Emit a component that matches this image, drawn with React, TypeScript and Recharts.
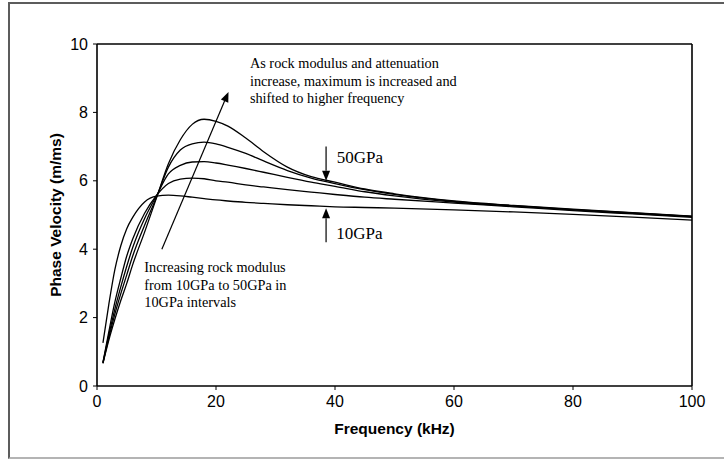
import React from 'react';
import {
  LineChart, Line, XAxis, YAxis, ReferenceLine, ReferenceDot, Label,
} from 'recharts';

// frequency (kHz) samples
const freq = [1, 2, 3, 4, 5, 6, 8, 10, 12, 14, 16, 18, 20, 22, 25, 28, 32, 36, 40, 45, 50, 60, 70, 80, 90, 100];

// phase velocity (m/ms) for each rock modulus
const gpa10 = [1.26, 2.4, 3.4, 4.1, 4.6, 4.93, 5.38, 5.55, 5.58, 5.56, 5.52, 5.48, 5.44, 5.41, 5.37, 5.34, 5.3, 5.27, 5.24, 5.22, 5.2, 5.15, 5.09, 5.02, 4.94, 4.85];
const gpa20 = [0.69, 1.6, 2.45, 3.15, 3.8, 4.3, 5.05, 5.57, 5.92, 6.05, 6.08, 6.06, 6.0, 5.96, 5.88, 5.82, 5.74, 5.67, 5.6, 5.52, 5.46, 5.35, 5.24, 5.13, 5.03, 4.93];
const gpa30 = [0.68, 1.5, 2.25, 2.9, 3.5, 4.05, 4.9, 5.56, 6.2, 6.45, 6.55, 6.56, 6.52, 6.46, 6.36, 6.25, 6.1, 5.96, 5.84, 5.68, 5.56, 5.38, 5.26, 5.15, 5.05, 4.95];
const gpa40 = [0.67, 1.42, 2.1, 2.7, 3.25, 3.8, 4.7, 5.52, 6.4, 6.9, 7.08, 7.13, 7.08, 6.98, 6.8, 6.58, 6.3, 6.08, 5.92, 5.74, 5.6, 5.4, 5.27, 5.16, 5.06, 4.96];
const gpa50 = [0.66, 1.35, 1.95, 2.5, 3.0, 3.55, 4.5, 5.5, 6.5, 7.2, 7.65, 7.8, 7.74, 7.6, 7.25, 6.85, 6.4, 6.12, 5.96, 5.76, 5.62, 5.41, 5.28, 5.17, 5.07, 4.97];

const xTicks = [0, 20, 40, 60, 80, 100];
const yTicks = [0, 2, 4, 6, 8, 10];

const series = ['gpa10', 'gpa20', 'gpa30', 'gpa40', 'gpa50'];

const noteTop = ['As rock modulus and attenuation', 'increase, maximum is increased and', 'shifted to higher frequency'];
const noteBottom = ['Increasing rock modulus', 'from 10GPa to 50GPa in', '10GPa intervals'];

const data = freq.map((f, i) => ({
  f,
  gpa10: gpa10[i],
  gpa20: gpa20[i],
  gpa30: gpa30[i],
  gpa40: gpa40[i],
  gpa50: gpa50[i],
}));

const serif = '"Liberation Serif", "Times New Roman", serif';
const sans = '"Liberation Sans", Arial, sans-serif';

// line with a filled arrow head at its end point
const Arrow = (p: any) => {
  const { x1, y1, x2, y2 } = p;
  const dx = x2 - x1;
  const dy = y2 - y1;
  const len = Math.sqrt(dx * dx + dy * dy) || 1;
  const ux = dx / len;
  const uy = dy / len;
  const hl = 10;
  const hw = 4;
  const bx = x2 - ux * hl;
  const by = y2 - uy * hl;
  const pts = `${x2},${y2} ${bx - uy * hw},${by + ux * hw} ${bx + uy * hw},${by - ux * hw}`;
  return (
    <g>
      <line x1={x1} y1={y1} x2={bx} y2={by} stroke="#000" strokeWidth={1.2} />
      <polygon points={pts} fill="#000" />
    </g>
  );
};

const note = (lines: string[], size = 14.3) => (p: any) => (
  <text x={p.cx} y={p.cy} fontFamily={serif} fontSize={size} fill="#000">
    {lines.map((l, i) => (
      <tspan key={i} x={p.cx} dy={i === 0 ? size * 0.36 : 17.5}>{l}</tspan>
    ))}
  </text>
);

const YTitle = (p: any) => {
  const { viewBox } = p;
  const cx = viewBox.x + 55;
  const cy = viewBox.y + viewBox.height / 2;
  return (
    <text x={cx} y={cy} transform={`rotate(-90, ${cx}, ${cy})`} textAnchor="middle" dominantBaseline="central"
      fontFamily={sans} fontWeight="bold" fontSize={15.5} fill="#000">
      Phase Velocity (m/ms)
    </text>
  );
};

export default function App() {
  return (
    <div style={{ position: 'absolute', left: 0, top: 0, width: 724, height: 461, background: '#fff' }}>
      <div style={{
        position: 'absolute', left: 8, top: 2, width: 730, height: 453,
        borderTop: '2px solid #5c5c5c', borderLeft: '2px solid #5c5c5c', borderBottom: '2px solid #b4b4b4',
      }} />
      <div style={{ position: 'absolute', left: 0, top: 0 }}>
        <LineChart width={724} height={461} data={data} margin={{ top: 44, right: 32, bottom: 20, left: 0 }}>
          <XAxis
            dataKey="f" type="number" domain={[0, 100]} ticks={xTicks}
            height={55} tickSize={4} tickMargin={6}
            axisLine={{ stroke: '#000', strokeWidth: 1.6 }} tickLine={{ stroke: '#000' }}
            tick={{ fill: '#000', fontFamily: sans, fontSize: 16 }}
          >
            <Label value="Frequency (kHz)" position="insideBottom" offset={7}
              style={{ fontFamily: sans, fontWeight: 'bold', fontSize: 15.5, fill: '#000' }} />
          </XAxis>
          <YAxis
            type="number" domain={[0, 10]} ticks={yTicks} width={97}
            tickSize={4} tickMargin={5}
            axisLine={{ stroke: '#000', strokeWidth: 1.6 }} tickLine={{ stroke: '#000' }}
            tick={{ fill: '#000', fontFamily: sans, fontSize: 16 }}
            label={<YTitle />}
          />
          <ReferenceLine y={10} stroke="#000" strokeWidth={1.6} />
          <ReferenceLine x={100} stroke="#000" strokeWidth={1.6} />
          {series.map((k) => (
            <Line key={k} dataKey={k} type="monotone" stroke="#000" strokeWidth={1.3}
              dot={false} activeDot={false} isAnimationActive={false} />
          ))}
          <ReferenceLine segment={[{ x: 10.9, y: 4.0 }, { x: 22.1, y: 8.6 }]} shape={Arrow} />
          <ReferenceLine segment={[{ x: 38.5, y: 7.0 }, { x: 38.5, y: 6.0 }]} shape={Arrow} />
          <ReferenceLine segment={[{ x: 38.5, y: 4.2 }, { x: 38.5, y: 5.2 }]} shape={Arrow} />
          <ReferenceDot x={25.7} y={9.44} shape={note(noteTop)} />
          <ReferenceDot x={7.95} y={3.47} shape={note(noteBottom)} />
          <ReferenceDot x={40.3} y={6.7} shape={note(['50GPa'], 17)} />
          <ReferenceDot x={40.2} y={4.47} shape={note(['10GPa'], 17)} />
        </LineChart>
      </div>
    </div>
  );
}
